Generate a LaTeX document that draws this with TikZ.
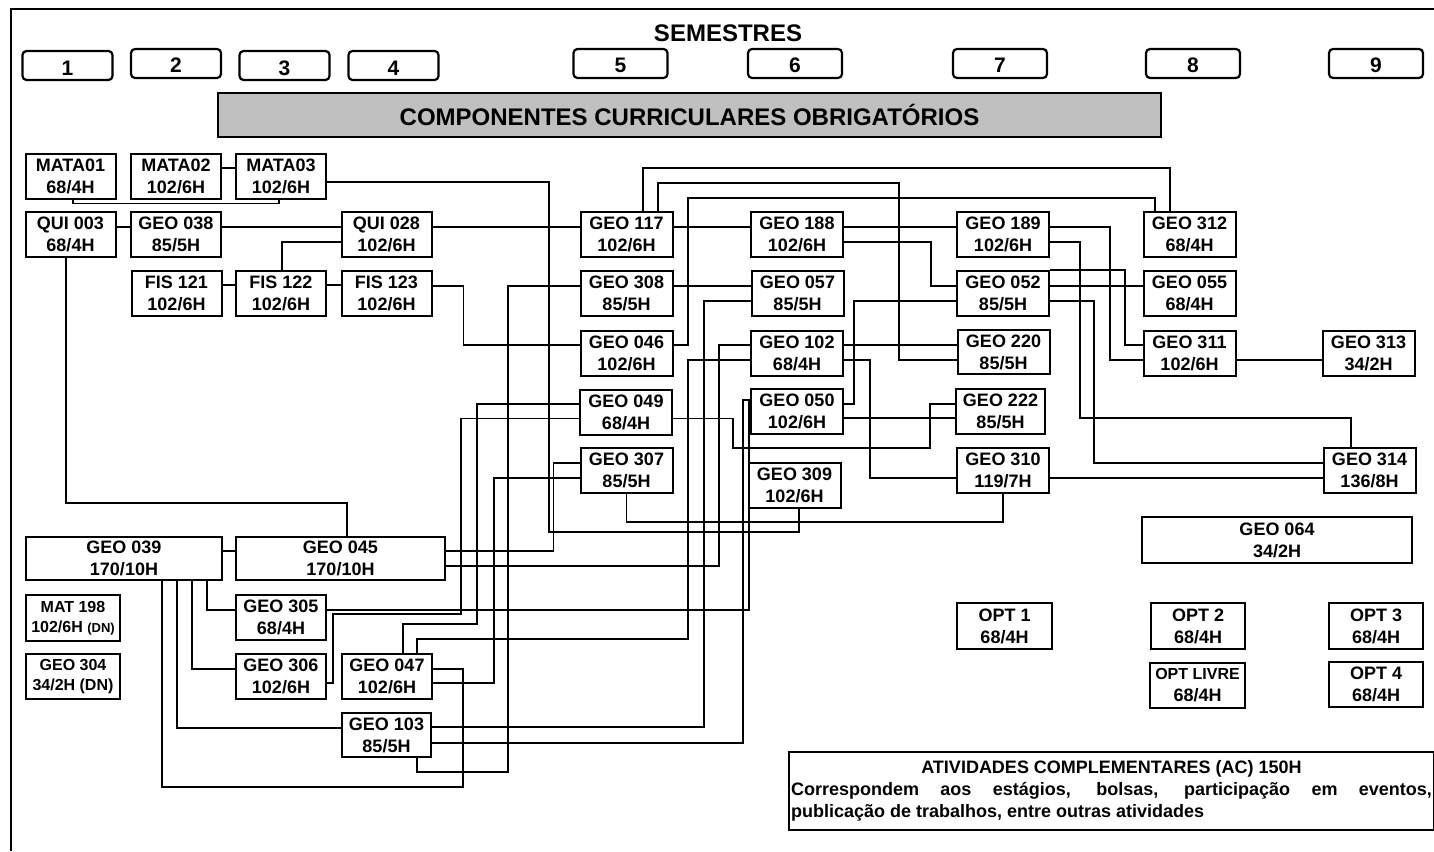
\documentclass[tikz,border=0pt]{standalone}
\usepackage{fontspec}
\setmainfont{Liberation Sans}
\setlength{\parindent}{0pt}
\definecolor{Banner}{HTML}{C0C0C0}
\definecolor{Ink}{HTML}{000000}
\tikzset{
    discnode/.style={rectangle, draw=Ink, line width=2pt, inner sep=0pt, minimum width=92pt, minimum height=45pt, align=center, font=\bfseries\fontsize{18}{22}\selectfont},
    smallnode/.style={discnode, font=\bfseries\fontsize{16}{20}\selectfont},
    semnode/.style={rectangle, rounded corners=4pt, draw=Ink, line width=2.2pt, inner sep=0pt, minimum width=94pt, minimum height=29pt, text height=19pt, text depth=0pt, font=\bfseries\fontsize{21}{21}\selectfont},
    bannernode/.style={rectangle, draw=Ink, line width=2pt, fill=Banner, minimum width=943pt, minimum height=44pt, font=\bfseries\fontsize{24}{24}\selectfont},
    link/.style={line width=1.7pt, color=Ink},
}

\begin{document}
\begin{tikzpicture}[x=1pt, y=-1pt]
        \useasboundingbox (0,0) rectangle (1434,851);
        \draw[line width=2.2pt] (11,851) -- (11,9) -- (1434,9);

        \node[font=\bfseries\fontsize{24}{24}\selectfont] (titulo) at (728,33) {SEMESTRES};
        \node[semnode, minimum width=90pt] (s1) at (67.5,65.5) {1};
        \node[semnode, minimum width=90pt] (s2) at (176,63.5) {2};
        \node[semnode, minimum width=90pt] (s3) at (284.5,65.5) {3};
        \node[semnode, minimum width=90pt] (s4) at (393.5,65.5) {4};
        \node[semnode] (s5) at (620.5,63.5) {5};
        \node[semnode] (s6) at (795,63.5) {6};
        \node[semnode] (s7) at (1000,63.5) {7};
        \node[semnode] (s8) at (1193,63.5) {8};
        \node[semnode] (s9) at (1376,63.5) {9};
        \node[bannernode] (banner) at (689.5,115) {COMPONENTES CURRICULARES OBRIGATÓRIOS};

        \node[discnode, minimum width=90pt] (mata01) at (70.5,176) {MATA01\\68/4H};
        \node[discnode, minimum width=90pt] (mata02) at (176,176) {MATA02\\102/6H};
        \node[discnode, minimum width=90pt] (mata03) at (281,176) {MATA03\\102/6H};
        \node[discnode, minimum width=90pt] (qui003) at (70.5,234.5) {QUI 003\\68/4H};
        \node[discnode, minimum width=90pt] (geo038) at (176,234.5) {GEO 038\\85/5H};
        \node[discnode, minimum width=90pt] (qui028) at (386.5,234.5) {QUI 028\\102/6H};
        \node[discnode, minimum width=90pt] (fis121) at (176.5,293) {FIS 121\\102/6H};
        \node[discnode, minimum width=90pt] (fis122) at (281,293) {FIS 122\\102/6H};
        \node[discnode, minimum width=90pt] (fis123) at (386.5,293) {FIS 123\\102/6H};

        \node[discnode] (geo117) at (626.5,234.5) {GEO 117\\102/6H};
        \node[discnode] (geo188) at (797,234.5) {GEO 188\\102/6H};
        \node[discnode] (geo189) at (1003,234.5) {GEO 189\\102/6H};
        \node[discnode] (geo312) at (1189.5,234.5) {GEO 312\\68/4H};
        \node[discnode] (geo308) at (626.5,293.5) {GEO 308\\85/5H};
        \node[discnode] (geo057) at (797.5,293.5) {GEO 057\\85/5H};
        \node[discnode] (geo052) at (1003,293.5) {GEO 052\\85/5H};
        \node[discnode] (geo055) at (1189.5,293.5) {GEO 055\\68/4H};
        \node[discnode] (geo046) at (626.5,353) {GEO 046\\102/6H};
        \node[discnode] (geo102) at (797,353) {GEO 102\\68/4H};
        \node[discnode, minimum height=44pt] (geo220) at (1003.5,352) {GEO 220\\85/5H};
        \node[discnode] (geo311) at (1189.5,353) {GEO 311\\102/6H};
        \node[discnode] (geo313) at (1368.5,353) {GEO 313\\34/2H};
        \node[discnode] (geo049) at (626,412) {GEO 049\\68/4H};
        \node[discnode] (geo050) at (797,411.5) {GEO 050\\102/6H};
        \node[discnode, minimum width=89pt] (geo222) at (1000.5,411) {GEO 222\\85/5H};
        \node[discnode] (geo307) at (626.5,470.5) {GEO 307\\85/5H};
        \node[discnode] (geo309) at (794.5,485.5) {GEO 309\\102/6H};
        \node[discnode] (geo310) at (1003,470.5) {GEO 310\\119/7H};
        \node[discnode] (geo314) at (1369.5,470.5) {GEO 314\\136/8H};
        \node[discnode, minimum width=270pt, minimum height=46pt] (geo064) at (1277,540) {GEO 064\\34/2H};

        \node[discnode, minimum width=196pt, minimum height=43pt] (geo039) at (124,558.5) {GEO 039\\170/10H};
        \node[discnode, minimum width=209pt, minimum height=43pt] (geo045) at (340.5,558.5) {GEO 045\\170/10H};
        \node[smallnode, minimum width=94pt, minimum height=46pt] (mat198) at (73,618) {MAT 198\\102/6H {\fontsize{13}{13}\selectfont(DN)}};
        \node[smallnode, minimum width=94pt] (geo304) at (73,676.5) {GEO 304\\34/2H (DN)};
        \node[discnode, minimum width=90pt] (geo305) at (281,617.5) {GEO 305\\68/4H};
        \node[discnode, minimum width=90pt] (geo306) at (281,676) {GEO 306\\102/6H};
        \node[discnode, minimum width=90pt] (geo047) at (387,676.5) {GEO 047\\102/6H};
        \node[discnode, minimum width=89pt, minimum height=44pt] (geo103) at (386.5,735) {GEO 103\\85/5H};

        \node[discnode, minimum width=95pt, minimum height=46pt] (opt1) at (1004.5,626) {OPT 1\\68/4H};
        \node[discnode, minimum width=94pt, minimum height=46pt] (opt2) at (1198,626) {OPT 2\\68/4H};
        \node[discnode, minimum width=94pt, minimum height=46pt] (opt3) at (1376,626) {OPT 3\\68/4H};
        \node[discnode, minimum width=95pt] (optlivre) at (1197.5,685.5) {{\fontsize{16}{16}\selectfont OPT LIVRE}\\68/4H};
        \node[discnode, minimum width=94pt] (opt4) at (1376,684.5) {OPT 4\\68/4H};
        \node[discnode, anchor=north west, minimum width=645pt, minimum height=78pt, text width=641pt, inner xsep=2pt, align=justify] (ativ) at (788,751) {{\centering ATIVIDADES COMPLEMENTARES (AC) 150H\par}Correspondem aos estágios, bolsas, participação em eventos,\linebreak publicação de trabalhos, entre outras atividades};

        \draw[link] ([yshift=8pt]mata02.east) -- ([yshift=8pt]mata03.west);
        \draw[link] ([xshift=2.5pt]mata01.south) -- ++(0,4) -| ([xshift=-2pt]mata03.south);
        \draw[link] ([yshift=-6pt]mata03.east) -| (549,532) -| ([xshift=4.5pt]geo309.south);
        \draw[link] ([yshift=7.5pt]qui003.east) -- ([yshift=7.5pt]geo038.west);
        \draw[link] ([yshift=7.5pt]geo038.east) -- ([yshift=7.5pt]qui028.west);
        \draw[link] ([yshift=-7.5pt]qui028.west) -| ([xshift=1pt]fis122.north);
        \draw[link] ([yshift=7.5pt]qui028.east) -- ([yshift=7.5pt]geo117.west);
        \draw[link] ([yshift=8pt]fis121.east) -- ([yshift=8pt]fis122.west);
        \draw[link] ([yshift=8pt]fis122.east) -- ([yshift=8pt]fis123.west);
        \draw[link] ([yshift=7pt]fis123.east) -- ++(31,0) |- ([yshift=8pt]geo046.west);
        \draw[link] ([xshift=-4.5pt]qui003.south) -- ++(0,245) -| ([xshift=6.5pt]geo045.north);

        \draw[link] ([yshift=7.5pt]geo117.east) -- ([yshift=7.5pt]geo188.west);
        \draw[link] ([yshift=7.5pt]geo188.east) -- ([yshift=7.5pt]geo189.west);
        \draw[link] ([yshift=-7.5pt]geo188.east) -- ++(87,0) |- ([yshift=7.5pt]geo052.west);
        \draw[link] ([xshift=16.5pt]geo117.north) -- ++(0,-43) -| ([xshift=-19.5pt]geo312.north);
        \draw[link] ([xshift=31.5pt]geo117.north) |- (899,183) |- ([yshift=-8pt]geo220.west);
        \draw[link] ([yshift=8pt]geo046.east) -| (688,198) -| ([xshift=-34.5pt]geo312.north);
        \draw[link] ([yshift=7.5pt]geo308.east) -- ([yshift=7.5pt]geo057.west);
        \draw[link] ([yshift=7.5pt]geo189.east) -- ++(60,0) |- ([yshift=-7pt]geo311.west);
        \draw[link] ([yshift=-7.5pt]geo189.east) -- ++(30,0) |- (1351,418) -- ([xshift=-18.5pt]geo314.north);
        \draw[link] (geo052.north east) -- ++(75,0) |- ([yshift=8pt]geo311.west);
        \draw[link] ([yshift=7.5pt]geo052.east) -- ([yshift=7.5pt]geo055.west);
        \draw[link] ([yshift=-7.5pt]geo052.east) -- ++(44,0) |- ([yshift=7.5pt]geo314.west);
        \draw[link] ([yshift=-7pt]geo311.east) -- ([yshift=-7pt]geo313.west);
        \draw[link] ([yshift=-7.5pt]geo310.east) -- ([yshift=-7.5pt]geo314.west);
        \draw[link] (geo307.south) -- ++(0,28) -| (geo310.south);
        \draw[link] ([yshift=8pt]geo102.east) -- ([yshift=7pt]geo220.west);
        \draw[link] ([yshift=-7pt]geo102.east) -- ++(26,0) |- ([yshift=-7.5pt]geo310.west);
        \draw[link] ([yshift=-6.5pt]geo049.east) -| (733,448) -| (930,404) -- ([yshift=7pt]geo222.west);
        \draw[link] ([yshift=7.5pt]geo050.east) -- ++(10,0) |- ([yshift=-7.5pt]geo052.west);
        \draw[link] ([yshift=-6.5pt]geo050.east) -- ([yshift=-7pt]geo222.west);

        \draw[link] ([yshift=7.5pt]geo045.east) -- ++(107.5,0) |- ([yshift=7.5pt]geo307.west);
        \draw[link] ([yshift=-7.5pt]geo045.east) -- ++(273,0) |- ([yshift=8pt]geo102.west);
        \draw[link] ([yshift=7.5pt]geo039.east) -- ([yshift=7.5pt]geo045.west);
        \draw[link] ([xshift=83pt]geo039.south) |- ([yshift=7.5pt]geo305.west);
        \draw[link] ([xshift=68pt]geo039.south) |- ([yshift=7pt]geo306.west);
        \draw[link] ([xshift=53pt]geo039.south) |- ([yshift=7pt]geo103.west);
        \draw[link] ([xshift=38pt]geo039.south) |- (463,787) |- ([yshift=7.5pt]geo047.east);
        \draw[link] ([yshift=7.5pt]geo305.east) -- ++(422,0) |- ([yshift=11.5pt]geo050.west);
        \draw[link] ([yshift=-7pt]geo306.east) -- ++(6,0) |- (461,614) |- ([yshift=-6.5pt]geo049.west);
        \draw[link] ([xshift=16pt]geo047.north) |- (477,624) |- ([yshift=8pt]geo049.west);
        \draw[link] ([xshift=30pt]geo047.north) |- (688,639) |- ([yshift=-7pt]geo102.west);
        \draw[link] ([yshift=-6.5pt]geo047.east) -- ++(61,0) |- ([yshift=-7.5pt]geo307.west);
        \draw[link] ([yshift=8pt]geo103.east) -- ++(272,0) |- ([yshift=-7.5pt]geo057.west);
        \draw[link] ([yshift=-8pt]geo103.east) -- ++(311,0) |- ([yshift=11.5pt]geo050.west);
        \draw[link] ([xshift=30.5pt]geo103.south) |- (508,772) |- ([yshift=7.5pt]geo308.west);
    \end{tikzpicture}
\end{document}
